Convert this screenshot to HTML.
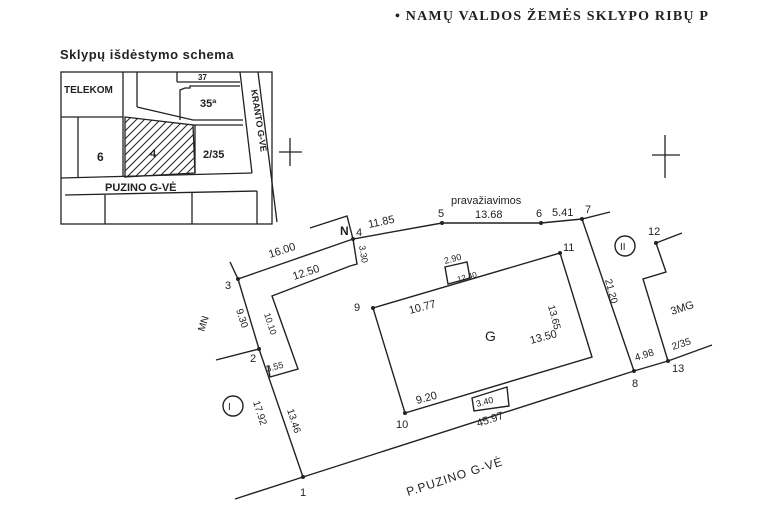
<!DOCTYPE html>
<html><head><meta charset="utf-8"><style>
html,body{margin:0;padding:0;background:#fff;}
svg{display:block;}
text{font-family:"Liberation Sans",sans-serif;fill:#222;}
text.serif{font-family:"Liberation Serif",serif;}
</style></head><body>
<svg width="777" height="519" viewBox="0 0 777 519" xmlns="http://www.w3.org/2000/svg">
<rect width="777" height="519" fill="#fff"/>
<text class="serif" x="395" y="20" font-size="14" font-weight="bold" letter-spacing="1.2">• NAMŲ VALDOS ŽEMĖS SKLYPO RIBŲ   P</text>
<text x="60" y="59" font-size="13" font-weight="bold" letter-spacing="0.5">Sklypų išdėstymo schema</text>

<g stroke="#222" stroke-width="1.3" fill="none">
<rect x="61" y="72" width="211" height="152"/>
<line x1="61" y1="117" x2="123" y2="117"/>
<line x1="123" y1="72" x2="123" y2="177"/>
<line x1="137" y1="72" x2="137" y2="107"/>
<polyline points="137,107 193,120 243,120"/>
<line x1="193" y1="125" x2="243" y2="125"/>
<line x1="177" y1="72" x2="177" y2="82"/>
<line x1="177" y1="82" x2="240" y2="82"/>
<polyline points="180,120 180,90 185,88 190,88 190,86 240,86"/>
<line x1="240" y1="72" x2="252" y2="173"/>
<line x1="258" y1="72" x2="277" y2="222"/>
<line x1="252" y1="173" x2="61" y2="178"/>
<line x1="78" y1="117" x2="78" y2="177"/>
<line x1="65" y1="195" x2="257" y2="191"/>
<line x1="257" y1="191" x2="257" y2="224"/>
<line x1="105" y1="195" x2="105" y2="224"/>
<line x1="192" y1="193" x2="192" y2="224"/>
<line x1="195" y1="125" x2="195" y2="173"/>
<line x1="279" y1="152" x2="302" y2="152"/><line x1="290" y1="138" x2="290" y2="166"/>
<line x1="652" y1="155" x2="680" y2="155"/><line x1="665" y1="135" x2="665" y2="178"/>
</g>
<clipPath id="hc"><polygon points="125,117 193,125 195,173 125,177"/></clipPath>
<g clip-path="url(#hc)" stroke="#222" stroke-width="1">
<path d="M100,180 l80,-80 M108,180 l80,-80 M116,180 l80,-80 M124,180 l80,-80 M132,180 l80,-80 M140,180 l80,-80 M148,180 l80,-80 M156,180 l80,-80 M164,180 l80,-80 M172,180 l80,-80 M180,180 l80,-80 M92,180 l80,-80 M84,180 l80,-80 M76,180 l80,-80 M68,180 l80,-80"/>
</g>
<polygon points="125,117 193,125 195,173 125,177" fill="none" stroke="#222" stroke-width="1.3"/>
<g font-size="10" font-weight="bold">
<text x="64" y="93">TELEKOM</text>
<text x="97" y="161" font-size="12">6</text>
<text x="200" y="107" font-size="11">35ª</text>
<text x="203" y="158" font-size="11">2/35</text>
<text x="150" y="157" font-size="11">4</text>
<text x="198" y="80" font-size="8">37</text>
<text x="105" y="191" font-size="11">PUZINO G-VĖ</text>
<text transform="translate(251,90) rotate(81)" font-size="9">KRANTO G-VĖ</text>
</g>

<g stroke="#222" stroke-width="1.4" fill="none">
<polyline points="235,499 303,477 634,371 668,361 712,345"/>
<polyline points="230,262 238,279 259,349 303,477"/>
<line x1="216" y1="360" x2="259" y2="349"/>
<polyline points="238,279 353,239 442,223 541,223 582,219 610,212"/>
<line x1="582" y1="219" x2="634" y2="371"/>
<polyline points="310,228 347,216 353,239 357,264 350,266"/>
<polyline points="350,266 272,296 298,369 270,377 268,366"/>
<polygon points="373,308 560,253 592,357 405,413"/>
<polygon points="445,267 467,262 470,278 448,284"/>
<polygon points="472,398 507,387 509,406 474,411"/>
<polyline points="682,233 656,243 666,272 643,279 668,361"/>
<circle cx="233" cy="406" r="10"/>
<circle cx="625" cy="246" r="10"/>
</g>
<g fill="#222">
<circle cx="303" cy="477" r="2"/><circle cx="259" cy="349" r="2"/><circle cx="238" cy="279" r="2"/>
<circle cx="353" cy="239" r="2"/><circle cx="442" cy="223" r="2"/><circle cx="541" cy="223" r="2"/>
<circle cx="582" cy="219" r="2"/><circle cx="634" cy="371" r="2"/><circle cx="668" cy="361" r="2"/>
<circle cx="656" cy="243" r="2"/><circle cx="373" cy="308" r="2"/><circle cx="560" cy="253" r="2"/><circle cx="405" cy="413" r="2"/>
</g>
<g font-size="11">
<text x="300" y="496">1</text>
<text x="250" y="362">2</text>
<text x="225" y="289">3</text>
<text x="356" y="236">4</text>
<text x="438" y="217">5</text>
<text x="536" y="217">6</text>
<text x="585" y="213">7</text>
<text x="632" y="387">8</text>
<text x="354" y="311">9</text>
<text x="396" y="428">10</text>
<text x="563" y="251">11</text>
<text x="648" y="235">12</text>
<text x="672" y="372">13</text>
<text x="228" y="410" font-size="10">I</text>
<text x="620" y="250" font-size="10">II</text>
<text x="485" y="341" font-size="14">G</text>
<text x="451" y="204">pravažiavimos</text>
<text x="369" y="228" transform="rotate(-12 369 228)">11.85</text>
<text x="475" y="218">13.68</text>
<text x="552" y="216">5.41</text>
<text x="270" y="258" transform="rotate(-18 270 258)">16.00</text>
<text x="294" y="280" transform="rotate(-18 294 280)">12.50</text>
<text x="340" y="235" font-weight="bold" font-size="12">N</text>
<text x="359" y="246" transform="rotate(80 359 246)" font-size="9">3.30</text>
<text x="445" y="264" font-size="9" transform="rotate(-15 445 264)">2.90</text>
<text x="458" y="282" font-size="8" transform="rotate(-15 458 282)">12.40</text>
<text x="410" y="314" transform="rotate(-15 410 314)">10.77</text>
<text x="531" y="344" transform="rotate(-15 531 344)">13.50</text>
<text x="417" y="404" transform="rotate(-15 417 404)">9.20</text>
<text x="477" y="407" font-size="9" transform="rotate(-15 477 407)">3.40</text>
<text x="478" y="427" transform="rotate(-18 478 427)">45.97</text>
<text x="548" y="306" transform="rotate(75 548 306)" font-size="10">13.65</text>
<text x="605" y="280" transform="rotate(75 605 280)" font-size="10">21.20</text>
<text x="636" y="361" transform="rotate(-18 636 361)" font-size="10">4.98</text>
<text x="673" y="350" transform="rotate(-18 673 350)" font-size="10">2/35</text>
<text x="672" y="315" transform="rotate(-18 672 315)">3MG</text>
<text x="204" y="332" transform="rotate(-72 204 332)" font-size="10">MN</text>
<text x="236" y="310" transform="rotate(72 236 310)" font-size="10">9.30</text>
<text x="264" y="314" transform="rotate(72 264 314)" font-size="9">10.10</text>
<text x="267" y="372" transform="rotate(-15 267 372)" font-size="9">3.55</text>
<text x="253" y="402" transform="rotate(72 253 402)" font-size="10">17.92</text>
<text x="287" y="410" transform="rotate(72 287 410)" font-size="10">13.46</text>
<text x="408" y="496" transform="rotate(-18 408 496)" font-size="12" letter-spacing="1">P.PUZINO G-VĖ</text>
</g>
</svg>
</body></html>
